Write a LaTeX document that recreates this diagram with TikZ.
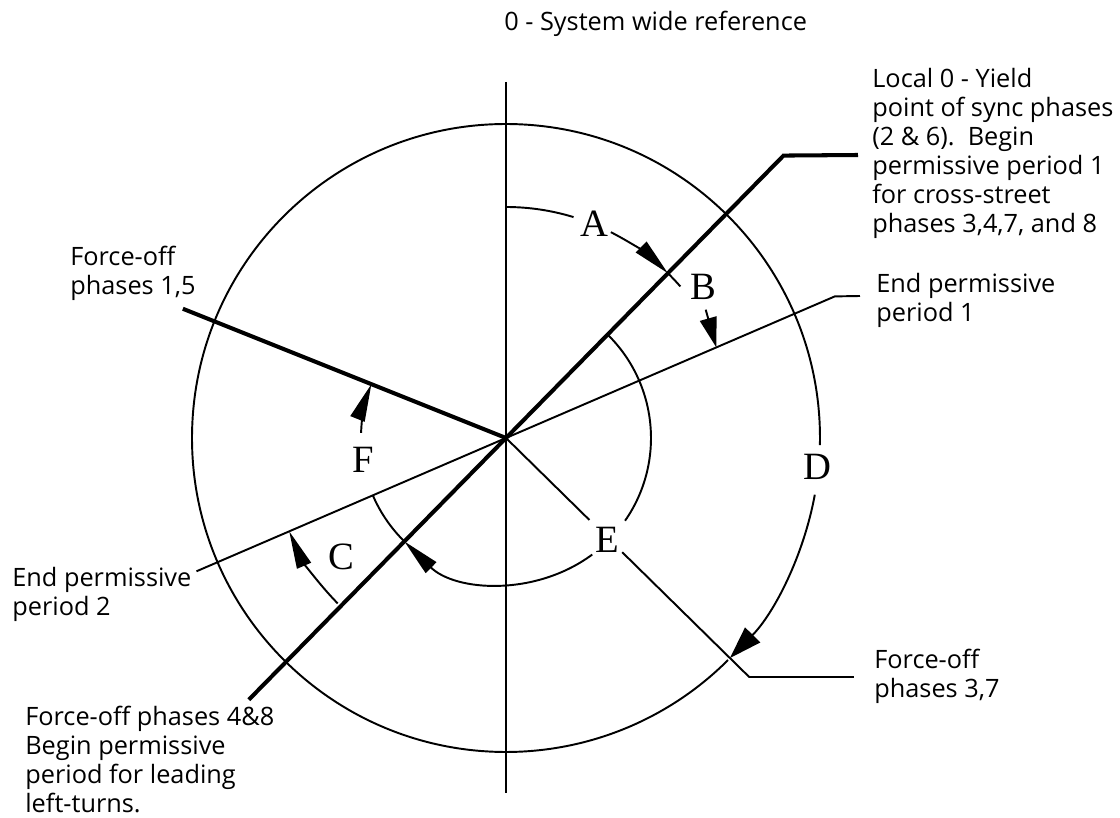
\documentclass[tikz,border=0pt]{standalone}
\usepackage{fontspec}
\usepackage{tikz}
\usetikzlibrary{
    arrows.meta
}
\newfontfamily\capfont{Open Sans}
\newfontfamily\letfont{Liberation Serif}

\begin{document}
\begin{tikzpicture}[
        x=0.02cm,
        y=0.02cm,
        >={Triangle[length=0.75cm,width=0.3cm]},
        thin line/.style={line width=1.1pt},
        bold line/.style={line width=2.3pt},
        caption/.style={
            inner sep=0pt,
            anchor=north west,
            align=left,
            font=\capfont\fontsize{14.4}{16.5}\selectfont
        },
        letter/.style={
            inner sep=0pt,
            font=\letfont\fontsize{22}{24}\selectfont
        }
    ]

    \useasboundingbox (-506,-380) rectangle (614,438);

    % texts
    \node[caption, anchor=base west] (title) at (-2,407) {0 - System wide reference};
    \node[caption] (local) at (366,370) {Local 0 - Yield\\point of sync phases\\(2 \& 6).\ \ Begin\\permissive period 1\\for cross-street\\phases 3,4,7, and 8};
    \node[caption] (endone) at (370,165) {End permissive\\period 1};
    \node[caption] (fofive) at (-436,192) {Force-off\\phases 1,5};
    \node[caption] (endtwo) at (-494,-129) {End permissive\\period 2};
    \node[caption] (foeight) at (-481,-268) {Force-off phases 4\&8\\Begin permissive\\period for leading\\left-turns.};
    \node[caption] (foseven) at (368,-211) {Force-off\\phases 3,7};

    % interval letters
    \node[letter] (A) at (88,214) {A};
    \node[letter] (B) at (197,151) {B};
    \node[letter] (C) at (-165,-119) {C};
    \node[letter] (D) at (311,-29) {D};
    \node[letter] (E) at (101,-102) {E};
    \node[letter] (F) at (-143,-22) {F};

    % radial lines
    \coordinate (O) at (0,0);
    \coordinate (top) at (0,356);
    \coordinate (bot) at (0,-355);
    \coordinate (loc) at (45.5:396);
    \coordinate (locend) at (352,283);
    \coordinate (foe) at (225.5:367);
    \coordinate (fof) at (158.2:348);
    \coordinate (epa) at (23.3:358);
    \coordinate (epaend) at (354,142);
    \coordinate (epb) at (203.3:337);
    \coordinate (fos) at (-44.5:341);
    \coordinate (fosend) at (348,-239);

    \draw[thin line] (top) -- (bot);
    \draw[bold line] (foe) -- (loc) -- (locend);
    \draw[bold line] (O) -- (fof);
    \draw[thin line] (epb) -- (epa) -- (epaend);
    \draw[thin line] (O) -- (-44.5:117);
    \draw[thin line] (-44.5:163) -- (fos) -- (fosend);

    % cycle circle, D
    \draw[thin line] (-1.3:314) arc[start angle=-1.3, end angle=315, radius=314];
    \draw[thin line, ->, >={Triangle[length=0.65cm,width=0.42cm]}]
        (-10.4:314) arc[start angle=-10.4, end angle=-44.5, radius=314];

    % A
    \draw[thin line] (90:231) arc[start angle=90, end angle=73, radius=231];
    \draw[thin line, ->] (63:231) arc[start angle=63, end angle=45.5, radius=231];
    \draw[thin line] (45.5:231) arc[start angle=45.5, end angle=41, radius=231];

    % B
    \draw[thin line, ->, >={Triangle[length=0.6cm,width=0.34cm]}, shorten <=0.2cm]
        (B.south) -- (23.3:229);

    % C
    \draw[thin line, ->] (224.5:236) arc[start angle=224.5, end angle=203.3, radius=236];

    % E
    \draw[thin line] (45.5:145) arc[start angle=45.5, end angle=-34.8, radius=145];
    \draw[thin line, ->] (-53.5:145) arc[start angle=-53.5, end angle=-134.5, radius=145];
    \draw[thin line] (225.5:145) arc[start angle=225.5, end angle=203.3, radius=145];

    % F
    \draw[thin line, ->] (178:145) arc[start angle=178, end angle=158.2, radius=145];

\end{tikzpicture}
\end{document}
